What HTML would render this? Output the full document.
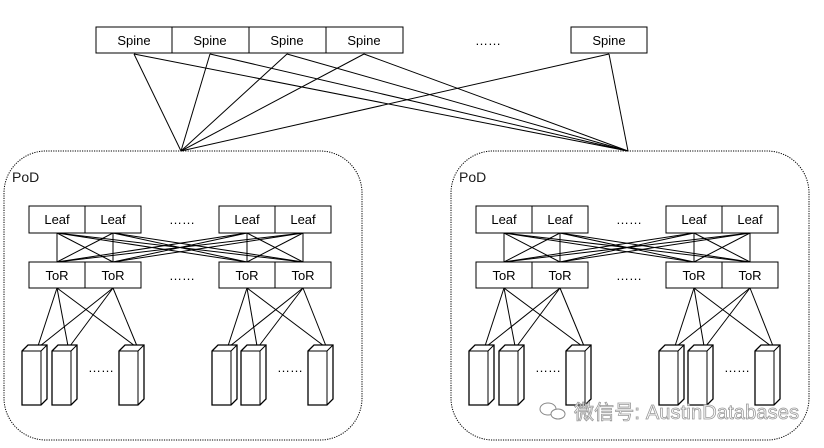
<!DOCTYPE html>
<html><head><meta charset="utf-8"><style>
html,body{margin:0;padding:0;background:#fff;}
svg{display:block;}
text{font-family:"Liberation Sans","Noto Sans CJK SC",sans-serif;}
</style></head><body>
<svg id="s" width="824" height="448" viewBox="0 0 824 448" xmlns="http://www.w3.org/2000/svg">
<g id="g" stroke="#000" fill="none" stroke-width="1"></g>
<g font-size="13" fill="#000" text-anchor="middle">
<text x="134" y="45">Spine</text><text x="210" y="45">Spine</text><text x="287" y="45">Spine</text><text x="364" y="45">Spine</text>
<text x="609" y="45">Spine</text>
<text x="488" y="45">……</text>
<text x="57" y="224">Leaf</text><text x="113" y="224">Leaf</text><text x="247" y="224">Leaf</text><text x="303" y="224">Leaf</text>
<text x="57" y="280">ToR</text><text x="113" y="280">ToR</text><text x="247" y="280">ToR</text><text x="303" y="280">ToR</text>
<text x="182" y="224">……</text><text x="182" y="280">……</text><text x="101" y="372">……</text><text x="290" y="372">……</text>
<text x="504" y="224">Leaf</text><text x="560" y="224">Leaf</text><text x="694" y="224">Leaf</text><text x="750" y="224">Leaf</text>
<text x="504" y="280">ToR</text><text x="560" y="280">ToR</text><text x="694" y="280">ToR</text><text x="750" y="280">ToR</text>
<text x="629" y="224">……</text><text x="629" y="280">……</text><text x="548" y="372">……</text><text x="737" y="372">……</text>
</g>
<text x="12" y="182" font-size="14" fill="#1a1a1a">PoD</text>
<text x="459" y="182" font-size="14" fill="#1a1a1a">PoD</text>
<g fill="#fff" stroke="#888" stroke-width="1"><ellipse cx="548" cy="409" rx="8" ry="6"/><ellipse cx="558" cy="414" rx="7" ry="5"/></g>
<text x="574" y="419" font-size="20" fill="#fff" stroke="#999" stroke-width="0.8" textLength="225">微信号: AustinDatabases</text>
</svg>
<script>
var g=document.getElementById('g'),h='';
function L(a,b,c,d){h+='<line x1="'+a+'" y1="'+b+'" x2="'+c+'" y2="'+d+'"/>';}
function R(x,y,w,hh){h+='<rect x="'+x+'" y="'+y+'" width="'+w+'" height="'+hh+'" fill="#fff"/>';}
var sp=[134,210,287,364,609];
sp.forEach(function(x){L(x,54,181,151);L(x,54,628,151);});
[[96,77],[172,77],[249,77],[326,77],[571,76]].forEach(function(b){R(b[0],27,b[1],26);});
for(var p=0;p<2;p++){
 var o=p*447;
 h+='<rect x="'+(4+o)+'" y="151" width="358" height="289" rx="42" ry="42" stroke-dasharray="1.2,1.2"/>';
 var xs=[57,113,247,303];
 xs.forEach(function(a){xs.forEach(function(b){L(a+o,233,b+o,262);});});
 [29,85,219,275].forEach(function(x){R(x+o,206,56,27);R(x+o,262,56,26);});
 var groups=[[57,113,[22,52,119]],[247,303,[212,241,308]]];
 groups.forEach(function(gr){
  [gr[0],gr[1]].forEach(function(t){gr[2].forEach(function(sx,i){L(t+o,288,sx+o+(t==gr[0]?16:18),346);});});
  gr[2].forEach(function(sx){var x=sx+o;
   h+='<polygon points="'+x+',351 '+(x+6)+',345 '+(x+25)+',345 '+(x+25)+',399 '+(x+19)+',405 '+x+',405" fill="#fff" stroke-width="1.3"/>';
   h+='<polyline points="'+x+',351 '+(x+19)+',351 '+(x+25)+',345"/>';L(x+19,351,x+19,405);
  });
 });
}
g.innerHTML=h;
</script>
</body></html>
